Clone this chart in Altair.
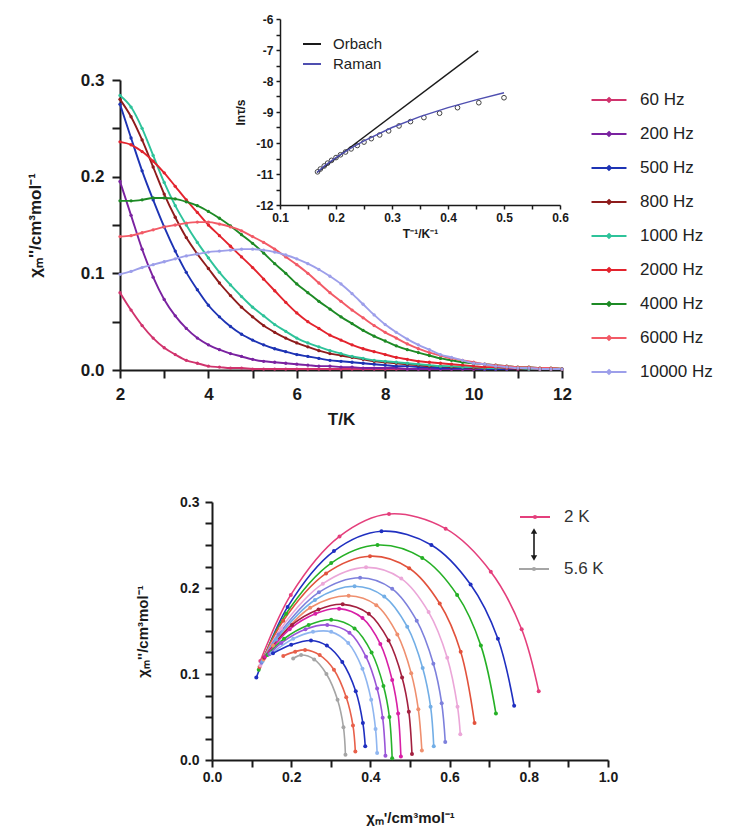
import altair as alt
import pandas as pd

FONT = "Liberation Sans, Arial, sans-serif"
INK = "#1a1a1a"

# ---------------- top panel: chi'' vs T ----------------
T_K = [2.0, 2.25, 2.5, 2.75, 3.0, 3.25, 3.5, 3.75, 4.0, 4.25,
       4.5, 4.75, 5.0, 5.25, 5.5, 5.75, 6.0, 6.25, 6.5, 6.75,
       7.0, 7.25, 7.5, 7.75, 8.0, 8.25, 8.5, 8.75, 9.0, 9.25,
       9.5, 9.75, 10.0, 10.25, 10.5, 10.75, 11.0, 11.25, 11.5, 11.75,
       12.0]

FREQ_LABELS = ["60 Hz", "200 Hz", "500 Hz", "800 Hz", "1000 Hz",
               "2000 Hz", "4000 Hz", "6000 Hz", "10000 Hz"]
FREQ_COLORS = ["#d0336d", "#7a22a0", "#1d33b4", "#8e1c1c", "#2ec39a",
               "#e3232d", "#1d8a25", "#f25a66", "#9d9fea"]

CHI_60 = [0.080, 0.062, 0.046, 0.033, 0.023, 0.016, 0.010, 0.007, 0.004, 0.003,
          0.002, 0.002, 0.001, 0.001, 0.001, 0.001, 0.001, 0.001, 0.001, 0.001,
          0.001, 0.001, 0.001, 0.001, 0.001, 0.001, 0.001, 0.001, 0.001, 0.001,
          0.001, 0.001, 0.001, 0.001, 0.001, 0.001, 0.001, 0.001, 0.001, 0.001,
          0.001]
CHI_200 = [0.195, 0.160, 0.125, 0.096, 0.073, 0.056, 0.043, 0.033, 0.026, 0.021,
           0.017, 0.014, 0.011, 0.009, 0.008, 0.007, 0.006, 0.005, 0.004, 0.004,
           0.003, 0.003, 0.002, 0.002, 0.002, 0.002, 0.001, 0.001, 0.001, 0.001,
           0.001, 0.001, 0.001, 0.001, 0.001, 0.001, 0.001, 0.001, 0.001, 0.001,
           0.001]
CHI_500 = [0.275, 0.240, 0.206, 0.176, 0.148, 0.123, 0.101, 0.083, 0.067, 0.055,
           0.045, 0.037, 0.031, 0.026, 0.022, 0.019, 0.016, 0.014, 0.012, 0.010,
           0.009, 0.008, 0.007, 0.006, 0.005, 0.004, 0.004, 0.003, 0.003, 0.002,
           0.002, 0.002, 0.002, 0.001, 0.001, 0.001, 0.001, 0.001, 0.001, 0.001,
           0.001]
CHI_800 = [0.280, 0.262, 0.238, 0.210, 0.182, 0.158, 0.137, 0.120, 0.105, 0.090,
           0.077, 0.065, 0.055, 0.046, 0.039, 0.033, 0.028, 0.024, 0.020, 0.017,
           0.015, 0.013, 0.011, 0.009, 0.008, 0.007, 0.006, 0.005, 0.004, 0.004,
           0.003, 0.003, 0.002, 0.002, 0.002, 0.002, 0.001, 0.001, 0.001, 0.001,
           0.001]
CHI_1000 = [0.284, 0.272, 0.250, 0.222, 0.194, 0.170, 0.150, 0.132, 0.116, 0.101,
            0.088, 0.076, 0.065, 0.056, 0.047, 0.040, 0.033, 0.028, 0.024, 0.020,
            0.017, 0.014, 0.012, 0.010, 0.009, 0.008, 0.007, 0.006, 0.005, 0.004,
            0.004, 0.003, 0.003, 0.002, 0.002, 0.002, 0.002, 0.001, 0.001, 0.001,
            0.001]
CHI_2000 = [0.236, 0.233, 0.226, 0.216, 0.204, 0.190, 0.176, 0.163, 0.150, 0.139,
            0.128, 0.117, 0.106, 0.094, 0.082, 0.070, 0.059, 0.050, 0.043, 0.036,
            0.031, 0.026, 0.022, 0.019, 0.016, 0.013, 0.011, 0.009, 0.008, 0.007,
            0.006, 0.005, 0.004, 0.003, 0.003, 0.002, 0.002, 0.002, 0.001, 0.001,
            0.001]
CHI_4000 = [0.175, 0.175, 0.176, 0.178, 0.178, 0.177, 0.174, 0.170, 0.164, 0.157,
            0.149, 0.140, 0.131, 0.121, 0.110, 0.100, 0.089, 0.080, 0.071, 0.063,
            0.055, 0.048, 0.041, 0.035, 0.030, 0.025, 0.021, 0.018, 0.015, 0.012,
            0.010, 0.008, 0.007, 0.006, 0.005, 0.004, 0.003, 0.003, 0.002, 0.002,
            0.001]
CHI_6000 = [0.138, 0.139, 0.142, 0.145, 0.148, 0.150, 0.152, 0.153, 0.153, 0.151,
            0.148, 0.144, 0.138, 0.132, 0.125, 0.117, 0.109, 0.100, 0.090, 0.080,
            0.071, 0.062, 0.054, 0.046, 0.039, 0.033, 0.027, 0.022, 0.018, 0.015,
            0.012, 0.010, 0.008, 0.006, 0.005, 0.004, 0.003, 0.003, 0.002, 0.002,
            0.001]
CHI_10000 = [0.099, 0.102, 0.106, 0.109, 0.112, 0.115, 0.118, 0.120, 0.122, 0.123,
             0.124, 0.125, 0.125, 0.124, 0.122, 0.119, 0.115, 0.110, 0.104, 0.097,
             0.089, 0.079, 0.068, 0.057, 0.047, 0.039, 0.032, 0.026, 0.021, 0.016,
             0.013, 0.010, 0.007, 0.006, 0.004, 0.003, 0.002, 0.002, 0.001, 0.001,
             0.001]
CHI_SERIES = [CHI_60, CHI_200, CHI_500, CHI_800, CHI_1000,
              CHI_2000, CHI_4000, CHI_6000, CHI_10000]

# ---------------- inset: ln(tau) vs 1/T ----------------
INV_T = [0.500, 0.455, 0.417, 0.385, 0.357, 0.333, 0.3125, 0.294, 0.278, 0.263,
         0.250, 0.238, 0.227, 0.217, 0.208, 0.200, 0.192, 0.185, 0.179, 0.172, 0.167]
LN_TAU = [-8.54, -8.70, -8.86, -9.04, -9.18, -9.31, -9.45, -9.61, -9.74, -9.86,
          -9.97, -10.08, -10.19, -10.29, -10.38, -10.47, -10.56, -10.65, -10.74, -10.84, -10.93]
ORBACH_X = [0.166, 0.454]
ORBACH_Y = [-10.95, -7.03]
RAMAN_X = [0.166, 0.180, 0.200, 0.225, 0.250, 0.300, 0.350, 0.400, 0.450, 0.500]
RAMAN_Y = [-10.95, -10.73, -10.47, -10.18, -9.93, -9.50, -9.15, -8.86, -8.61, -8.38]
INSET_SERIES = ["Orbach", "Raman"]
INSET_COLORS = ["#1a1a1a", "#4f4fb0"]

# ---------------- bottom panel: Cole-Cole ----------------
CC_NAMES = ["2.0 K", "2.2 K", "2.4 K", "2.6 K", "2.8 K", "3.0 K", "3.2 K", "3.4 K",
            "3.6 K", "3.8 K", "4.2 K", "4.4 K", "4.6 K", "4.8 K", "5.2 K", "5.6 K"]
CC_COLORS = ["#e43f7c", "#1f2fc0", "#25b025", "#e2523c", "#eba6d8", "#7d80dc",
             "#72aee6", "#ef8f6e", "#a3203f", "#d81fa6", "#27b32b", "#9a55d8",
             "#8fb6f0", "#1f2fc0", "#e8604a", "#a5a5a5"]
CC_X = [
    [0.122, 0.199, 0.322, 0.447, 0.590, 0.704, 0.782, 0.825],
    [0.112, 0.191, 0.308, 0.428, 0.554, 0.653, 0.722, 0.763],
    [0.118, 0.187, 0.301, 0.418, 0.531, 0.619, 0.679, 0.717],
    [0.120, 0.180, 0.288, 0.399, 0.498, 0.575, 0.628, 0.663],
    [0.122, 0.174, 0.280, 0.389, 0.478, 0.547, 0.594, 0.620, 0.627],
    [0.125, 0.168, 0.270, 0.374, 0.455, 0.517, 0.559, 0.580, 0.589],
    [0.128, 0.162, 0.260, 0.360, 0.435, 0.493, 0.532, 0.552, 0.560],
    [0.130, 0.154, 0.248, 0.345, 0.415, 0.468, 0.503, 0.521, 0.530],
    [0.132, 0.202, 0.269, 0.330, 0.396, 0.446, 0.480, 0.497, 0.505],
    [0.134, 0.196, 0.261, 0.321, 0.380, 0.425, 0.455, 0.470, 0.477],
    [0.140, 0.182, 0.244, 0.301, 0.360, 0.403, 0.433, 0.448, 0.455],
    [0.145, 0.175, 0.236, 0.291, 0.347, 0.389, 0.417, 0.431, 0.438],
    [0.150, 0.205, 0.255, 0.301, 0.344, 0.380, 0.402, 0.413, 0.417],
    [0.154, 0.200, 0.250, 0.290, 0.329, 0.363, 0.381, 0.387],
    [0.180, 0.210, 0.235, 0.272, 0.308, 0.339, 0.356, 0.362],
    [0.205, 0.225, 0.258, 0.289, 0.317, 0.332, 0.337],
]
CC_Y = [
    [0.115, 0.192, 0.260, 0.286, 0.269, 0.219, 0.152, 0.080],
    [0.096, 0.178, 0.243, 0.266, 0.250, 0.204, 0.141, 0.063],
    [0.105, 0.170, 0.229, 0.250, 0.235, 0.192, 0.133, 0.054],
    [0.108, 0.162, 0.217, 0.237, 0.223, 0.182, 0.126, 0.043],
    [0.110, 0.153, 0.205, 0.224, 0.211, 0.172, 0.119, 0.062, 0.030],
    [0.113, 0.146, 0.195, 0.212, 0.199, 0.162, 0.112, 0.066, 0.021],
    [0.115, 0.140, 0.186, 0.202, 0.190, 0.155, 0.107, 0.062, 0.016],
    [0.117, 0.133, 0.177, 0.191, 0.180, 0.146, 0.101, 0.059, 0.011],
    [0.119, 0.157, 0.175, 0.181, 0.170, 0.139, 0.096, 0.056, 0.007],
    [0.120, 0.152, 0.170, 0.176, 0.165, 0.135, 0.093, 0.054, 0.004],
    [0.122, 0.141, 0.157, 0.163, 0.153, 0.125, 0.086, 0.050, 0.002],
    [0.123, 0.136, 0.152, 0.157, 0.148, 0.120, 0.083, 0.049, 0.005],
    [0.124, 0.141, 0.149, 0.149, 0.136, 0.106, 0.070, 0.036, 0.008],
    [0.124, 0.134, 0.139, 0.133, 0.114, 0.080, 0.043, 0.016],
    [0.121, 0.126, 0.128, 0.122, 0.105, 0.073, 0.040, 0.010],
    [0.118, 0.122, 0.117, 0.100, 0.070, 0.038, 0.006],
]
CC_LEGEND = ["2 K", "5.6 K"]

# ---------------- tables ----------------
main_rows = []
for name, vals in zip(FREQ_LABELS, CHI_SERIES):
    for t, v in zip(T_K, vals):
        main_rows.append({"freq": name, "T": t, "chi": v})
df_main = pd.DataFrame(main_rows)

inset_line_rows = []
for i, (x, y) in enumerate(zip(ORBACH_X, ORBACH_Y)):
    inset_line_rows.append({"series": "Orbach", "x": x, "y": y, "i": i})
for i, (x, y) in enumerate(zip(RAMAN_X, RAMAN_Y)):
    inset_line_rows.append({"series": "Raman", "x": x, "y": y, "i": i})
df_inset_lines = pd.DataFrame(inset_line_rows)
df_inset_pts = pd.DataFrame({"x": INV_T, "y": LN_TAU})

cc_rows = []
for name, xs, ys in zip(CC_NAMES, CC_X, CC_Y):
    for i, (x, y) in enumerate(zip(xs, ys)):
        cc_rows.append({"curve": name, "x": x, "y": y, "i": i})
df_cc = pd.DataFrame(cc_rows)

one = pd.DataFrame({"k": [0]})

# ---------------- top: main plot ----------------
x_main = alt.X("T:Q", scale=alt.Scale(domain=[2, 12], nice=False, zero=False),
               axis=alt.Axis(title="T/K", values=list(range(2, 13)),
                             labelExpr="datum.value % 2 == 0 ? datum.label : ''",
                             labelFontSize=17, titleFontSize=17, tickSize=8, tickWidth=2,
                             domainWidth=2, labelPadding=8, titlePadding=9))
y_main = alt.Y("chi:Q", scale=alt.Scale(domain=[0, 0.3], nice=False),
               axis=alt.Axis(title="χₘ''/cm³mol⁻¹",
                             values=[0, 0.05, 0.1, 0.15, 0.2, 0.25, 0.3],
                             labelExpr="round(datum.value*100) % 10 == 0 ? format(datum.value, '.1f') : ''",
                             labelFontSize=17, titleFontSize=17, tickSize=8, tickWidth=2,
                             domainWidth=2, labelPadding=8, titlePadding=36))
main_legend = alt.Legend(title=None, orient="none", legendX=470, legendY=10,
                         symbolType="M-2,0L2,0M0,-0.22L0.22,0L0,0.22L-0.22,0Z",
                         symbolSize=306, symbolStrokeWidth=2, symbolOffset=9,
                         labelOffset=21, labelFontSize=17, labelFont=FONT,
                         labelColor="#222", rowPadding=16, padding=0)
c_main = alt.Color("freq:N", scale=alt.Scale(domain=FREQ_LABELS, range=FREQ_COLORS),
                   sort=FREQ_LABELS, legend=main_legend)

main_lines = alt.Chart(df_main).mark_line(interpolate="monotone", strokeWidth=1.9).encode(
    x=x_main, y=y_main, color=c_main)
main_pts = alt.Chart(df_main).mark_point(filled=True, size=11, opacity=1).encode(
    x=x_main, y=y_main, color=c_main)
main_layer = alt.layer(main_lines, main_pts)

# ---------------- top: inset ----------------
x_in = alt.X("x:Q", scale=alt.Scale(domain=[0.1, 0.6], range=[160, 440], nice=False, zero=False),
             axis=alt.Axis(orient="bottom", offset=-165, title="T⁻¹/K⁻¹",
                           values=[0.1, 0.15, 0.2, 0.25, 0.3, 0.35, 0.4, 0.45, 0.5, 0.55, 0.6],
                           labelExpr="round(datum.value*100) % 10 == 0 ? format(datum.value, '.1f') : ''",
                           labelFontSize=12, titleFontSize=12, tickSize=4, tickWidth=1.5,
                           domainWidth=1.5, labelPadding=3, titlePadding=5))
y_in = alt.Y("y:Q", scale=alt.Scale(domain=[-12, -6], range=[125, -61], nice=False, zero=False),
             axis=alt.Axis(orient="left", offset=-160, title="lnτ/s",
                           values=[-12, -11.5, -11, -10.5, -10, -9.5, -9, -8.5, -8, -7.5, -7, -6.5, -6],
                           labelExpr="datum.value % 1 == 0 ? '' + datum.value : ''",
                           labelFontSize=12, titleFontSize=12, tickSize=4, tickWidth=1.5,
                           domainWidth=1.5, labelPadding=3, titlePadding=8))
inset_legend = alt.Legend(title=None, orient="none", legendX=182, legendY=-46,
                          symbolType="stroke", symbolSize=324, symbolStrokeWidth=2,
                          labelOffset=11, labelFontSize=15, labelFont=FONT,
                          labelColor="#222", rowPadding=2, padding=0)
c_in = alt.Color("series:N", scale=alt.Scale(domain=INSET_SERIES, range=INSET_COLORS),
                 legend=inset_legend)

inset_pts = alt.Chart(df_inset_pts).mark_point(filled=False, size=22, color="#444",
                                                strokeWidth=1, opacity=1).encode(x=x_in, y=y_in)
inset_lines = alt.Chart(df_inset_lines).mark_line(strokeWidth=1.4).encode(
    x=x_in, y=y_in, color=c_in, order="i:Q")
inset_layer = alt.layer(inset_pts, inset_lines)

top = alt.layer(main_layer, inset_layer).resolve_scale(
    x="independent", y="independent", color="independent"
).properties(width=442, height=290)

# ---------------- bottom: Cole-Cole ----------------
x_cc = alt.X("x:Q", scale=alt.Scale(domain=[0, 1], nice=False),
             axis=alt.Axis(title="χₘ'/cm³mol⁻¹",
                           values=[0, 0.1, 0.2, 0.3, 0.4, 0.5, 0.6, 0.7, 0.8, 0.9, 1.0],
                           labelExpr="round(datum.value*10) % 2 == 0 ? format(datum.value, '.1f') : ''",
                           labelFontSize=14, titleFontSize=15, tickSize=7, tickWidth=2,
                           domainWidth=2, labelPadding=3, titlePadding=26))
y_cc = alt.Y("y:Q", scale=alt.Scale(domain=[0, 0.3], nice=False),
             axis=alt.Axis(title="χₘ''/cm³mol⁻¹",
                           values=[0, 0.025, 0.05, 0.075, 0.1, 0.125, 0.15, 0.175,
                                   0.2, 0.225, 0.25, 0.275, 0.3],
                           labelExpr="round(datum.value*1000) % 100 == 0 ? format(datum.value, '.1f') : ''",
                           labelFontSize=14, titleFontSize=15, tickSize=7, tickWidth=2,
                           domainWidth=2, labelPadding=6, titlePadding=29))
c_cc = alt.Color("curve:N", scale=alt.Scale(domain=CC_NAMES, range=CC_COLORS), legend=None)

cc_lines = alt.Chart(df_cc).mark_line(interpolate="catmull-rom", strokeWidth=1.6).encode(
    x=x_cc, y=y_cc, color=c_cc, order="i:Q")
cc_pts = alt.Chart(df_cc).mark_point(filled=True, size=16, opacity=1).encode(
    x=x_cc, y=y_cc, color=c_cc)

# legend-like annotation (2 K <-> 5.6 K)
ann_pink = alt.Chart(one).mark_rule(color=CC_COLORS[0], strokeWidth=2).encode(
    x=alt.value(308), x2=alt.value(338), y=alt.value(15))
ann_pink_dot = alt.Chart(one).mark_point(filled=True, size=18, color=CC_COLORS[0], opacity=1).encode(
    x=alt.value(323), y=alt.value(15))
ann_gray = alt.Chart(one).mark_rule(color=CC_COLORS[-1], strokeWidth=2).encode(
    x=alt.value(307), x2=alt.value(337), y=alt.value(67))
ann_gray_dot = alt.Chart(one).mark_point(filled=True, size=18, color=CC_COLORS[-1], opacity=1).encode(
    x=alt.value(322), y=alt.value(67))
ann_arrow = alt.Chart(one).mark_rule(color=INK, strokeWidth=1.6).encode(
    x=alt.value(322), y=alt.value(28), y2=alt.value(57))
ann_up = alt.Chart(one).mark_point(shape="triangle-up", filled=True, size=40, color=INK, opacity=1).encode(
    x=alt.value(322), y=alt.value(29))
ann_down = alt.Chart(one).mark_point(shape="triangle-down", filled=True, size=40, color=INK, opacity=1).encode(
    x=alt.value(322), y=alt.value(56))
ann_t1 = alt.Chart(one).mark_text(align="left", baseline="middle", fontSize=17, font=FONT, color="#333").encode(
    x=alt.value(352), y=alt.value(15), text=alt.value(CC_LEGEND[0]))
ann_t2 = alt.Chart(one).mark_text(align="left", baseline="middle", fontSize=17, font=FONT, color="#333").encode(
    x=alt.value(352), y=alt.value(67), text=alt.value(CC_LEGEND[1]))

bottom = alt.layer(cc_lines, cc_pts, ann_pink, ann_pink_dot, ann_gray, ann_gray_dot,
                   ann_arrow, ann_up, ann_down, ann_t1, ann_t2).properties(width=396, height=258)

SPACER_W = 15
spacer = alt.Chart(one).mark_rule(strokeOpacity=0).encode(
    x=alt.value(0), x2=alt.value(SPACER_W), y=alt.value(0)).properties(width=SPACER_W, height=10)

chart = alt.vconcat(
    top,
    alt.hconcat(spacer, bottom, spacing=0),
    spacing=68,
).properties(
    background="white",
    padding={"left": 18, "top": 5, "right": 5, "bottom": 5},
).configure_view(stroke=None).configure_axis(
    grid=False, domainColor=INK, tickColor=INK, labelColor=INK, titleColor=INK,
    labelFont=FONT, titleFont=FONT, labelFontWeight="bold", titleFontWeight="bold",
    labelFlush=False, labelOverlap=False)

chart.save("out.html", embed_options={"renderer": "svg", "actions": False})
